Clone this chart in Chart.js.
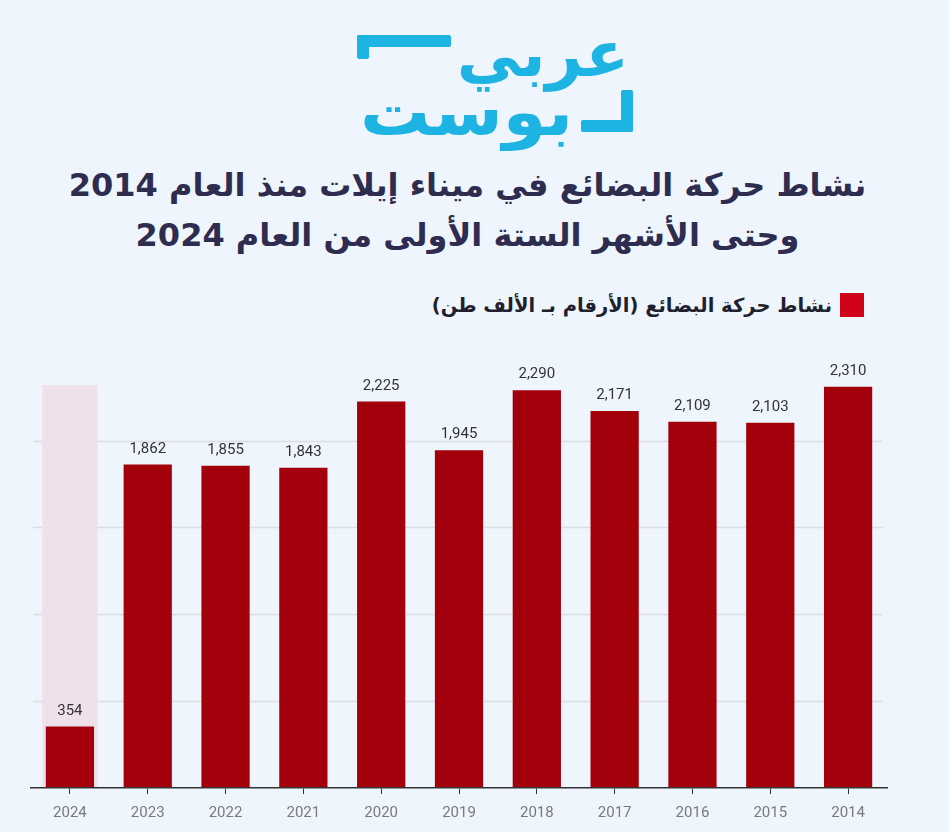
<!DOCTYPE html>
<html lang="ar">
<head>
<meta charset="utf-8">
<script src="https://cdn.jsdelivr.net/npm/chart.js@4.4.1/dist/chart.umd.min.js"></script>
<style>
  html, body { margin: 0; padding: 0; }
  body {
    width: 949px; height: 832px; overflow: hidden;
    background: #eff5fc; position: relative;
    font-family: "DejaVu Sans", "Noto Sans", sans-serif;
  }
  .logo { position: absolute; left: 357px; top: 34px; width: 276px; height: 118px; color: #1db3e3; }
  .logo .bar { position: absolute; background: #1db3e3; border-radius: 2px; }
  .logo .word { position: absolute; font-weight: bold; line-height: 1; direction: rtl; transform-origin: right center; }
  .title {
    position: absolute; left: -7px; width: 949px; top: 160px;
    text-align: center; direction: rtl;
    color: #2e2c4f; font-weight: bold; font-size: 32px; line-height: 50px;
  }
  .legend {
    position: absolute; right: 85px; top: 293px; direction: rtl;
    display: flex; align-items: center; gap: 8px;
    color: #1f1f2e; font-weight: bold; font-size: 19.5px;
  }
  .legend .sw { width: 24px; height: 24px; background: #d0031b; }
  .chart-box { position: absolute; left: 0; top: 340px; width: 949px; height: 492px; }
</style>
</head>
<body>

<div class="logo">
  <div class="bar" style="left:0;top:1px;width:94px;height:12px;"></div>
  <div class="bar" style="left:0;top:1px;width:12px;height:24px;"></div>
  <div class="word" style="right:4px;top:-12px;font-size:64px;">عربي</div>
  <div class="word" style="right:60px;top:46px;font-size:66px;transform:scaleX(1.06);">بوست</div>
  <div class="bar" style="right:0;top:56px;width:12px;height:42px;"></div>
  <div class="bar" style="right:0;top:86px;width:52px;height:12px;"></div>
</div>

<div class="title">نشاط حركة البضائع في ميناء إيلات منذ العام 2014<br>وحتى الأشهر الستة الأولى من العام 2024</div>

<div class="legend"><span class="sw"></span><span>نشاط حركة البضائع (الأرقام بـ الألف طن)</span></div>

<div class="chart-box"><canvas id="myChart"></canvas></div>

<script>
const years = ['2024', '2023', '2022', '2021', '2020', '2019', '2018', '2017', '2016', '2015', '2014'];
const cargo = [354, 1862, 1855, 1843, 2225, 1945, 2290, 2171, 2109, 2103, 2310];
// shaded column behind the partial year, up to the top of the axis
const yMax = 2320;
const partialYear = [2320, null, null, null, null, null, null, null, null, null, null];
const gridLines = [500, 1000, 1500, 2000];

// light horizontal guides, placed through the y scale
const guides = {
  id: 'guides',
  beforeDatasetsDraw(chart) {
    const { ctx, chartArea, scales } = chart;
    ctx.save();
    ctx.strokeStyle = '#dadde2';
    ctx.lineWidth = 1.5;
    gridLines.forEach(v => {
      const y = Math.round(scales.y.getPixelForValue(v)) + 0.5;
      ctx.beginPath();
      ctx.moveTo(chartArea.left + 2, y);
      ctx.lineTo(chartArea.right - 4, y);
      ctx.stroke();
    });
    ctx.restore();
  }
};

const barLabels = {
  id: 'barLabels',
  afterDatasetsDraw(chart) {
    const ctx = chart.ctx;
    const meta = chart.getDatasetMeta(1);
    ctx.save();
    ctx.font = '15px Roboto';
    ctx.fillStyle = '#333333';
    ctx.textAlign = 'center';
    ctx.textBaseline = 'bottom';
    meta.data.forEach((bar, i) => {
      ctx.fillText(cargo[i].toLocaleString('en-US'), bar.x, bar.y - 8);
    });
    ctx.restore();
  }
};

new Chart(document.getElementById('myChart').getContext('2d'), {
  type: 'bar',
  data: {
    labels: years,
    datasets: [
      {
        data: partialYear,
        backgroundColor: '#efe1e9',
        barPercentage: 0.71,
        categoryPercentage: 1,
        grouped: false,
        order: 2
      },
      {
        data: cargo,
        label: 'نشاط حركة البضائع',
        backgroundColor: '#a2000b',
        barPercentage: 0.62,
        categoryPercentage: 1,
        grouped: false,
        order: 1
      }
    ]
  },
  options: {
    responsive: true,
    maintainAspectRatio: false,
    animation: false,
    layout: { padding: { left: 31, right: 62, top: 45, bottom: 0 } },
    plugins: { legend: { display: false }, tooltip: { enabled: false } },
    scales: {
      x: {
        grid: { display: true, drawOnChartArea: false, offset: false, tickLength: 6, color: '#333333' },
        border: { display: true, color: '#333333', width: 1.5, z: 1 },
        ticks: { color: '#7a7a7a', font: { family: 'Roboto', size: 15 }, padding: 10 }
      },
      y: {
        display: false,
        min: 0,
        max: yMax
      }
    }
  },
  plugins: [guides, barLabels]
});
</script>
</body>
</html>
